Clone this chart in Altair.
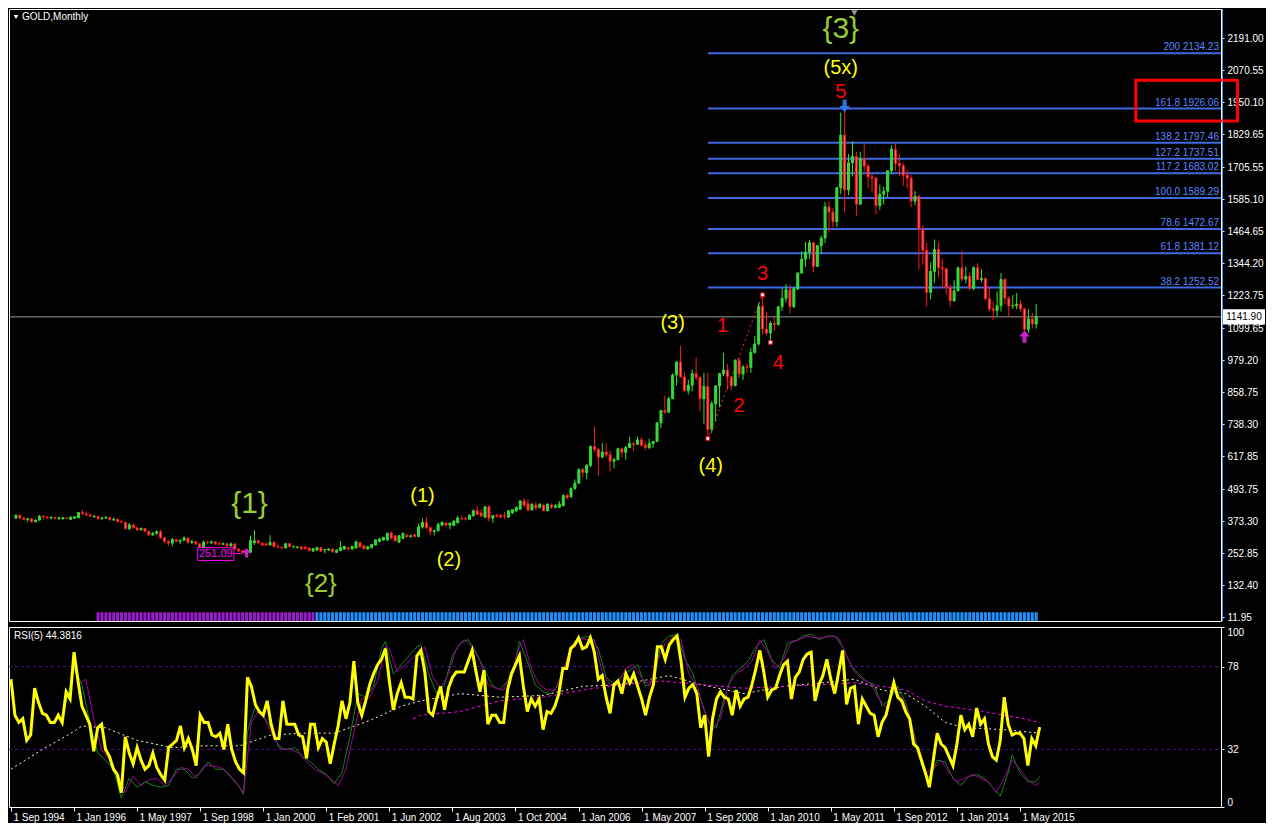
import altair as alt
import pandas as pd

# ---------------- price data (one entry per monthly bar, bar index 0 = Sep 1994) ----------------
opens = [384,395,384,379,382,371,377,392,389,385,
         387,383,382,385,380,384,386,405,400,396,
         389,391,382,385,387,377,380,371,369,345,
         359,348,340,346,335,321,327,333,311,297,
         290,304,297,301,310,293,296,288,274,294,
         292,295,288,286,288,280,287,268,261,254,
         256,292,299,290,288,283,293,277,275,272,
         288,277,274,276,276,272,260,264,273,264,
         264,268,255,262,268,272,268,272,292,281,
         268,273,283,297,302,302,329,318,294,308,
         320,315,322,315,351,368,348,334,337,358,
         366,358,357,367,384,383,380,393,412,404,
         388,427,384,396,394,394,388,404,412,418,
         449,439,415,434,425,433,412,434,425,425,
         431,470,465,496,516,568,556,583,654,643,
         614,633,623,599,604,646,632,650,665,662,
         679,659,650,665,673,743,789,783,834,923,
         972,916,864,885,928,914,834,880,718,815,
         882,928,942,916,883,979,927,954,952,1008,
         1040,1182,1096,1081,1118,1113,1180,1212,1244,1181,
         1248,1307,1359,1386,1421,1332,1410,1439,1556,1536,
         1500,1628,1826,1620,1722,1746,1566,1737,1710,1669,
         1664,1561,1604,1615,1692,1773,1720,1711,1675,1664,
         1578,1596,1472,1393,1234,1313,1395,1327,1323,1253,
         1202,1240,1326,1284,1295,1250,1327,1282,1287,1210,
         1172,1166,1184,1283,1212,1183,1184,1190,1172,1095,1134,1115]
highs = [398,396,389,385,383,379,396,396,391,391,
         388,390,387,386,390,390,407,416,409,402,
         396,394,388,392,388,386,383,375,369,366,
         360,350,348,347,335,332,339,340,313,300,
         310,304,304,316,311,302,297,289,300,298,
         300,296,293,292,290,293,290,270,264,260,
         318,339,300,293,292,320,298,286,278,291,
         290,280,278,278,279,275,271,276,275,268,
         270,270,266,298,279,276,280,300,294,283,
         279,287,305,310,314,330,331,320,320,330,
         326,322,326,363,383,389,352,341,367,371,
         369,368,376,393,391,389,399,417,431,418,
         429,433,396,398,400,406,414,418,428,452,
         458,455,440,445,440,437,440,440,437,449,
         474,477,500,530,570,574,588,658,730,650,
         668,665,639,612,650,650,656,690,671,692,
         689,672,683,675,746,792,845,842,929,974,
         1033,935,905,944,988,918,930,932,825,884,
         931,1007,964,919,982,989,960,966,1024,1070,
         1195,1227,1162,1126,1139,1182,1249,1266,1262,1254,
         1310,1388,1424,1432,1424,1412,1447,1575,1577,1552,
         1632,1911,1921,1755,1803,1764,1764,1792,1720,1680,
         1670,1640,1631,1694,1788,1796,1755,1723,1695,1677,
         1616,1601,1487,1420,1347,1433,1424,1361,1326,1262,
         1280,1332,1392,1331,1310,1332,1345,1322,1290,1255,
         1200,1238,1307,1288,1220,1224,1232,1205,1175,1170,1157,1191]
lows = [381,381,377,370,367,369,376,380,383,380,
        381,377,379,381,379,382,384,399,394,388,
        386,377,378,382,374,374,369,366,341,339,
        345,337,339,333,316,319,322,306,289,281,
        278,292,287,300,288,288,283,271,272,287,
        287,283,282,283,277,277,267,257,251,251,
        252,284,287,278,280,282,275,272,268,271,
        275,271,270,266,266,258,258,262,258,252,
        262,254,253,260,265,264,266,270,272,267,
        266,271,282,293,300,300,305,296,292,305,
        311,311,312,313,344,345,320,319,335,353,
        354,342,354,365,377,375,378,390,404,390,
        386,372,367,386,386,381,385,400,408,415,
        425,410,413,415,420,410,410,418,422,422,
        429,455,460,490,515,538,530,577,632,543,
        610,613,560,571,603,613,604,648,636,660,
        653,640,644,649,672,724,777,782,832,884,
        914,861,850,862,904,786,740,681,705,747,
        801,919,866,865,880,912,905,931,931,1003,
        1034,1075,1072,1044,1088,1110,1164,1196,1155,1175,
        1242,1305,1330,1360,1309,1330,1381,1420,1462,1478,
        1480,1604,1535,1600,1670,1523,1563,1688,1627,1610,
        1527,1545,1565,1592,1680,1692,1672,1636,1626,1555,
        1562,1321,1338,1180,1208,1270,1290,1251,1227,1180,
        1200,1238,1277,1268,1240,1241,1280,1273,1206,1161,
        1131,1142,1162,1191,1142,1172,1170,1162,1077,1080,1098,1098]
closes = [395,384,379,382,371,377,392,389,385,387,
          383,385,386,383,388,389,405,400,396,392,
          391,382,385,387,379,380,371,369,345,359,
          348,340,346,335,321,327,333,311,297,290,
          304,297,301,310,293,296,288,274,294,292,
          295,288,286,288,280,287,268,261,255,256,
          300,299,291,283,283,293,277,275,272,288,
          277,278,276,268,269,262,269,274,260,266,
          268,258,264,273,278,268,278,295,276,269,
          277,285,302,306,312,327,309,298,318,327,
          314,318,315,351,368,348,334,337,361,369,
          357,365,373,385,382,381,396,412,398,392,
          427,384,394,391,388,391,412,416,425,449,
          433,415,437,423,437,412,437,425,431,437,
          470,461,496,516,568,556,583,654,643,614,
          633,623,599,604,646,632,650,665,662,679,
          659,650,665,673,743,789,783,834,923,972,
          916,864,885,928,914,834,880,718,815,882,
          928,942,916,883,979,927,954,952,1008,1040,
          1182,1096,1081,1118,1113,1180,1212,1244,1181,1248,
          1307,1359,1386,1421,1332,1410,1439,1556,1536,1500,
          1628,1826,1620,1722,1746,1566,1737,1710,1669,1664,
          1561,1604,1615,1692,1773,1720,1711,1675,1664,1578,
          1596,1472,1393,1234,1313,1395,1327,1323,1253,1202,
          1240,1326,1284,1295,1250,1327,1282,1287,1210,1172,
          1166,1184,1283,1212,1183,1184,1190,1172,1095,1134,1115,1141.9]

tick_bars = [0, 16, 32, 48, 64, 80, 96, 112, 128, 144, 160, 176, 192, 208, 224, 240, 256]
tick_labels = ["1 Sep 1994", "1 Jan 1996", "1 May 1997", "1 Sep 1998", "1 Jan 2000",
               "1 Feb 2001", "1 Jun 2002", "1 Aug 2003", "1 Oct 2004", "1 Jan 2006",
               "1 May 2007", "1 Sep 2008", "1 Jan 2010", "1 May 2011", "1 Sep 2012",
               "1 Jan 2014", "1 May 2015"]
price_ticks = [2191.00, 2070.55, 1950.10, 1829.65, 1705.55, 1585.10, 1464.65, 1344.20,
               1223.75, 1099.65, 979.20, 858.75, 738.30, 617.85, 493.75, 373.30,
               252.85, 132.40, 11.95]

fib_levels = ["200", "161.8", "138.2", "127.2", "117.2", "100.0", "78.6", "61.8", "38.2"]
fib_prices = [2134.23, 1926.06, 1797.46, 1737.51, 1683.02, 1589.29, 1472.67, 1381.12, 1252.52]
fib_start_bar = 177
current_price = 1141.90

wave_labels = ["{3}", "(5x)", "5", "3", "1", "2", "4", "(3)", "(4)", "(1)", "(2)", "{1}", "{2}"]
wave_bars = [211, 211, 211, 191, 180.75, 185, 195, 168, 177.75, 104, 110.75, 59.75, 78]
wave_prices = [2224, 2080, 1990, 1302, 1107, 806, 967, 1118, 581, 467, 228, 438, 137]
wave_degree = ["cycle", "primary", "minor", "minor", "minor", "minor", "minor",
               "primary", "primary", "primary", "primary", "cycle", "cycle2"]

zigzag_bars = [177, 191]
zigzag_prices = [681, 1227]
pivot_bars = [177, 191, 193]
pivot_prices = [684, 1225, 1046]
low_text = "251.09"
low_box_bars = [46.5, 55.75]
low_box_prices = [225, 273]
low_link_bars = [55.75, 57.75]
low_link_price = 251
up_arrow_bars = [59, 258]
up_arrow_prices = [254, 1068]
up_arrow_sizes = [90, 150]
down_arrow_bar = 212
down_arrow_price = 1936
red_box_bars = [286.5, 312.5]
red_box_prices = [1879, 2033]
shift_marker_bar = 214.5

hist_segments = [(21, 76, "down"), (77, 261, "up")]

# ---------------- RSI panel data ----------------
rsi_yellow = [71,51,47,49,37,40,66,58,52,51,
              47,47,51,47,64,60,86,70,56,51,
              46,31,44,46,32,28,21,18,8,39,
              30,24,33,26,21,23,30,22,18,15,
              33,35,37,45,33,38,32,23,51,47,
              47,40,39,41,32,46,32,25,21,19,
              72,67,57,53,51,59,46,38,38,59,
              46,46,46,40,39,27,46,46,33,38,
              36,24,35,45,59,49,58,81,58,51,
              59,68,74,79,82,88,70,54,63,69,
              61,61,60,84,
              87,75,53,51,60,67,54,66,72,75,
              75,75,81,87,75,64,76,46,51,51,
              47,47,65,74,79,84,67,53,60,56,
              60,43,53,52,56,63,77,77,88,90,
              94,88,89,94,86,71,73,61,52,68,
              70,63,74,69,74,67,60,51,61,68,
              89,89,82,90,93,95,81,61,66,68,
              63,44,51,28,49,60,64,61,60,51,
              65,56,60,61,68,77,87,75,61,65,
              66,73,79,81,60,72,75,82,85,86,
              59,68,73,82,71,63,75,87,57,66,
              67,46,60,56,52,51,39,47,51,60,
              69,61,59,53,49,35,33,26,19,11,
              26,41,35,33,28,23,35,51,43,46,
              39,55,46,49,35,28,26,37,61,46,
              40,41,41,38,23,38,34,44.38]
green_pts = [(14,58),(16,77),(18,68),(20,47),(22,30),(24,26),(26,21),(28,5),(30,16),(32,11),
             (34,14),(36,12),(38,11),(40,12),(42,21),(44,21),(46,16),(48,19),(50,25),(52,21),
             (54,21),(56,16),(58,11),(59,7),(60,42),(62,56),(64,51),(66,44),(68,33),(70,32),
             (72,33),(74,28),(76,25),(78,21),(80,18),(82,13),(84,19),(86,39),(88,63),(90,61),
             (92,67),(94,88),(95,92),(97,74),(99,79),(101,84),(103,89),
             (104,90),(106,74),(108,63),(110,68),(112,84),(114,91),(116,93),(118,86),(120,77),
             (122,68),(124,65),(126,70),(128,81),(129,92),(131,81),(133,68),(135,64),(137,63),
             (139,68),(141,81),(143,92),(145,94),(147,95),(149,88),(151,72),(153,68),(155,73),
             (157,76),(159,79),(161,67),(163,70),(165,91),(167,95),(169,96),(171,82),(173,74),
             (175,60),(177,47),(179,44),(181,61),(183,73),(185,77),(187,81),(189,89),(191,93),
             (193,82),(195,77),(197,91),(199,92),(201,95),(203,96),(205,93),(207,95),(209,95),
             (211,89),(213,79),(215,74),(217,70),(219,68),(221,56),(223,60),(225,67),(227,58),
             (229,42),(231,23),(233,16),(235,26),(237,25),(239,16),(241,12),(243,17),(245,18),
             (247,16),(249,11),(251,6),(253,19),(254,29),(256,19),(258,14),(260,14),(261,17)]
purple_pts = [(17,68),(19,71),(21,49),(23,32),(25,26),(27,19),(29,8),(31,17),(33,12),(35,15),
              (37,16),(39,12),(41,16),(43,22),(45,21),(47,16),(49,23),(51,23),(53,22),(55,19),
              (57,14),(59,8),(61,47),(63,54),(65,46),(67,37),(69,32),(71,32),(73,30),(75,25),
              (77,21),(79,19),(81,16),(83,12),(85,21),(87,42),(89,60),(91,61),(93,70),(95,89),
              (96,88),(98,75),(100,79),(102,83),
              (105,89),(107,72),(109,66),(111,74),(113,88),(115,93),(117,89),(119,81),(121,68),
              (123,66),(125,65),(127,74),(129,89),(130,93),(132,77),(134,68),(136,65),(138,65),
              (140,75),(142,89),(144,94),(146,93),(148,93),(150,75),(152,68),(154,68),(156,77),
              (158,79),(160,72),(162,67),(164,81),(166,91),(168,95),(170,93),(172,74),(174,67),
              (176,53),(178,43),(180,49),(182,68),(184,74),(186,77),(188,81),(190,93),(192,86),
              (194,77),(196,82),(198,92),(200,93),(202,95),(204,94),(206,94),(208,95),(210,94),
              (212,84),(214,75),(216,71),(218,69),(220,61),(222,55),(224,65),(226,61),(228,51),
              (230,30),(232,19),(234,21),(236,26),(238,19),(240,14),(242,16),(244,18),(246,16),
              (248,14),(250,8),(252,16),(254,26),(256,21),(258,15),(260,12),(261,14)]
ma_fast_pts = [(0,21),(8,32),(16,42),(18,45),(24,44),(32,37),(41,33),(49,34),(58,34),(66,40),
               (74,41),(82,41),(91,48),(99,56),(104,59),(114,63),(124,61),(135,62),(145,67),
               (155,68),(167,73),(175,68),(186,63),(196,67),(206,69),(214,71),(221,65),(227,63),
               (232,56),(237,47),(242,44),(252,43),(261,41)]
ma_slow_pts = [(102,49),(104,51),(114,53),(124,59),(135,61),(145,65),(155,68),(165,70),(175,68),
               (186,66),(196,67),(206,68),(214,69),(221,67),(227,65),(232,59),(237,56),(247,53),
               (257,49),(261,47)]
rsi_levels = [78, 32]
rsi_ticks = [0, 32, 78, 100]
rsi_caption = "RSI(5) 44.3816"

assert len(opens) == len(highs) == len(lows) == len(closes) == len(rsi_yellow) == 262

# ---------------- layout ----------------
W, H1, H2 = 1212, 612, 180
FONT = "Liberation Sans"
xs = alt.Scale(domain=[-0.5, 307], nice=False, zero=False)
ys = alt.Scale(domain=[-3, 2301], nice=False, zero=False)
rs = alt.Scale(domain=[0, 100], nice=False, zero=False)

UP_ARROW = "M-0.32,1L0.32,1L0.32,0L0.85,0L0,-1L-0.85,0L-0.32,0Z"
DOWN_ARROW = "M-0.32,-1L0.32,-1L0.32,0L0.85,0L0,1L-0.85,0L-0.32,0Z"

price_axis = alt.Axis(orient="right", values=price_ticks, format=".2f", tickSize=3,
                      labelPadding=3, domain=False, grid=False, labelOverlap=False, title=None)
label_expr = " : ".join(f"datum.value == {b} ? '{t}'" for b, t in zip(tick_bars, tick_labels)) + " : ''"
rsi_x_axis = alt.Axis(values=tick_bars, labelExpr=label_expr, labelAlign="left", labelOffset=2,
                      tickSize=4, labelPadding=1, domain=False, grid=False,
                      labelOverlap=False, labelFlush=False, labelBound=False, title=None)
rsi_y_axis = alt.Axis(orient="right", values=rsi_ticks, format="d", tickSize=3, labelPadding=3,
                      domain=False, grid=False, labelFlush=True, labelOverlap=False, title=None)

candles = pd.DataFrame({"bar": list(range(len(closes))), "o": opens, "h": highs, "l": lows, "c": closes})
bull = alt.datum.c >= alt.datum.o


def X(field="bar:Q"):
    return alt.X(field, scale=xs, axis=None, title=None)


def Y(field):
    return alt.Y(field, scale=ys, axis=price_axis, title=None)


def RX(field="bar:Q"):
    return alt.X(field, scale=xs, axis=rsi_x_axis, title=None)


def RY(field):
    return alt.Y(field, scale=rs, axis=rsi_y_axis, title=None)


one = pd.DataFrame({"k": [0]})

# histogram indicator at the bottom of the price window
hist_rows = []
for s, e, k in hist_segments:
    for b in range(s, e + 1):
        hist_rows.append({"bar": b, "kind": k})
histdf = pd.DataFrame(hist_rows)
hist_layers = []
for kind, col in [("down", "#9b1ccf"), ("up", "#1e90ff")]:
    hist_layers.append(
        alt.Chart(histdf).transform_filter(alt.datum.kind == kind).mark_bar(size=3, color=col).encode(
            x=X(), y=alt.YDatum(30, scale=ys, axis=price_axis, title=None), y2=alt.Y2Datum(-3)))

fibdf = pd.DataFrame({"level": fib_levels, "price": fib_prices})
fibdf["start"] = fib_start_bar
fibdf["label"] = [f"{lv} {p:.2f}" for lv, p in zip(fib_levels, fib_prices)]
fib_rule = alt.Chart(fibdf).mark_rule(color="#4169e1", strokeWidth=2).encode(
    x=X("start:Q"), x2=alt.value(W), y=Y("price:Q"))
fib_text = alt.Chart(fibdf).mark_text(align="right", baseline="bottom", dx=-2, dy=-1,
                                      color="#5b86ff", font=FONT, fontSize=10).encode(
    x=alt.value(W), y=Y("price:Q"), text="label:N")

curdf = pd.DataFrame({"p": [current_price], "t": [f"{current_price:.2f}"]})
cur_line = alt.Chart(curdf).mark_rule(color="#9a9a9a", strokeWidth=1).encode(
    x=alt.value(0), x2=alt.value(W), y=Y("p:Q"))

wick = alt.Chart(candles).mark_rule(strokeWidth=1).encode(
    x=X(), y=Y("l:Q"), y2="h:Q",
    color=alt.when(bull).then(alt.value("#2ee82e")).otherwise(alt.value("#ff1a1a")))
body = alt.Chart(candles).mark_bar(size=2, strokeWidth=1).encode(
    x=X(), y=Y("o:Q"), y2="c:Q",
    fill=alt.when(bull).then(alt.value("#36d236")).otherwise(alt.value("#f07878")),
    stroke=alt.when(bull).then(alt.value("#36e036")).otherwise(alt.value("#ff1010")))

zig = alt.Chart(pd.DataFrame({"bar": zigzag_bars, "p": zigzag_prices})).mark_line(
    color="#ff3030", strokeDash=[2, 3], strokeWidth=1).encode(x=X(), y=Y("p:Q"))
pivots = alt.Chart(pd.DataFrame({"bar": pivot_bars, "p": pivot_prices})).mark_point(
    shape="square", size=14, filled=True, fill="#ffffff", stroke="#ff0000", strokeWidth=1, opacity=1).encode(
    x=X(), y=Y("p:Q"))

up_arrows = alt.Chart(pd.DataFrame({"bar": up_arrow_bars, "p": up_arrow_prices, "s": up_arrow_sizes})).mark_point(
    shape=UP_ARROW, filled=True, color="#d21ed2", opacity=1).encode(
    x=X(), y=Y("p:Q"), size=alt.Size("s:Q", scale=None, legend=None))
down_arrow = alt.Chart(pd.DataFrame({"bar": [down_arrow_bar], "p": [down_arrow_price]})).mark_point(
    shape=DOWN_ARROW, size=160, filled=True, color="#2a78e4", opacity=1).encode(x=X(), y=Y("p:Q"))

wavedf = pd.DataFrame({"label": wave_labels, "bar": wave_bars, "p": wave_prices, "deg": wave_degree})
wave_styles = [("cycle", "#9acd32", 30), ("cycle2", "#9acd32", 26), ("primary", "#ffff00", 20), ("minor", "#ff0000", 20)]
wave_layers = []
for deg, col, fs in wave_styles:
    wave_layers.append(
        alt.Chart(wavedf).transform_filter(alt.datum.deg == deg).mark_text(
            font=FONT, align="center", baseline="middle", color=col, fontSize=fs).encode(
            x=X(), y=Y("p:Q"), text="label:N"))

low_box = alt.Chart(pd.DataFrame({"b0": [low_box_bars[0]], "b1": [low_box_bars[1]],
                                  "p0": [low_box_prices[0]], "p1": [low_box_prices[1]]})).mark_rect(
    fillOpacity=0, stroke="#ff00ff", strokeWidth=1).encode(
    x=X("b0:Q"), x2="b1:Q", y=Y("p0:Q"), y2="p1:Q")
low_link = alt.Chart(pd.DataFrame({"bar": low_link_bars, "p": [low_link_price] * 2})).mark_line(
    color="#ff00ff", strokeWidth=1).encode(x=X(), y=Y("p:Q"))
low_lbl = alt.Chart(pd.DataFrame({"bar": [sum(low_box_bars) / 2], "p": [sum(low_box_prices) / 2], "t": [low_text]})).mark_text(
    font=FONT, fontSize=11, color="#ff00ff", align="center", baseline="middle").encode(
    x=X(), y=Y("p:Q"), text="t:N")

red_box = alt.Chart(pd.DataFrame({"b0": [red_box_bars[0]], "b1": [red_box_bars[1]],
                                  "p0": [red_box_prices[0]], "p1": [red_box_prices[1]]})).mark_rect(
    fillOpacity=0, stroke="#ff0000", strokeWidth=3).encode(
    x=X("b0:Q"), x2="b1:Q", y=Y("p0:Q"), y2="p1:Q")

price_box = alt.Chart(curdf).mark_point(
    shape="M-1,-0.36L1,-0.36L1,0.36L-1,0.36Z", size=1764, filled=True, color="#ffffff", opacity=1).encode(
    x=alt.value(W + 23), y=Y("p:Q"))
price_txt = alt.Chart(curdf).mark_text(font=FONT, fontSize=10, color="#000000", align="center", baseline="middle").encode(
    x=alt.value(W + 23), y=Y("p:Q"), text="t:N")

right_line = alt.Chart(one).mark_rule(color="#3d9bff", strokeWidth=1).encode(
    x=alt.value(W + 1.5), y=alt.value(0), y2=alt.value(H1))

shift_marker = alt.Chart(pd.DataFrame({"bar": [shift_marker_bar]})).mark_point(
    shape="triangle-down", size=40, filled=True, color="#9a9a9a", opacity=1).encode(x=X(), y=alt.value(4))

title_tri = alt.Chart(one).mark_point(shape="triangle-down", size=22, filled=True, color="#ffffff", opacity=1).encode(
    x=alt.value(7), y=alt.value(8))
title_txt = alt.Chart(pd.DataFrame({"t": ["GOLD,Monthly"]})).mark_text(
    font=FONT, fontSize=10, color="#ffffff", align="left", baseline="middle").encode(
    x=alt.value(13), y=alt.value(8), text="t:N")

price_panel = alt.layer(
    *hist_layers, fib_rule, cur_line, wick, body, fib_text, zig, pivots, up_arrows, down_arrow,
    *wave_layers, low_box, low_link, low_lbl, red_box, price_box, price_txt, right_line,
    shift_marker, title_tri, title_txt
).properties(width=W, height=H1)

# ---------------- RSI panel ----------------
lvl = alt.Chart(pd.DataFrame({"v": rsi_levels})).mark_rule(color="#55108f", strokeDash=[3, 3], strokeWidth=1).encode(
    x=alt.value(0), x2=alt.value(W), y=RY("v:Q"))
ma_fast = alt.Chart(pd.DataFrame(ma_fast_pts, columns=["bar", "v"])).mark_line(
    color="#fff2d0", strokeDash=[2, 3], strokeWidth=1, clip=True).encode(x=RX(), y=RY("v:Q"))
ma_slow = alt.Chart(pd.DataFrame(ma_slow_pts, columns=["bar", "v"])).mark_line(
    color="#ff00ff", strokeDash=[3, 3], strokeWidth=1, clip=True).encode(x=RX(), y=RY("v:Q"))
green_l = alt.Chart(pd.DataFrame(green_pts, columns=["bar", "v"])).mark_line(
    color="#0c8a0c", strokeWidth=1, clip=True).encode(x=RX(), y=RY("v:Q"))
purple_l = alt.Chart(pd.DataFrame(purple_pts, columns=["bar", "v"])).mark_line(
    color="#a000a0", strokeWidth=1, clip=True).encode(x=RX(), y=RY("v:Q"))
yellow_l = alt.Chart(pd.DataFrame({"bar": list(range(len(rsi_yellow))), "v": rsi_yellow})).mark_line(
    color="#ffff00", strokeWidth=3, clip=True).encode(x=RX(), y=RY("v:Q"))
rsi_txt = alt.Chart(pd.DataFrame({"t": [rsi_caption]})).mark_text(
    font=FONT, fontSize=10, color="#ffffff", align="left", baseline="middle").encode(
    x=alt.value(5), y=alt.value(9), text="t:N")

rsi_panel = alt.layer(lvl, ma_fast, ma_slow, green_l, purple_l, yellow_l, rsi_txt).properties(width=W, height=H2)

chart = alt.vconcat(price_panel, rsi_panel, spacing=3).properties(
    background="#000000", padding=0
).configure_view(stroke="#ffffff", strokeWidth=1).configure_axis(
    labelColor="#ffffff", tickColor="#ffffff", labelFont=FONT, labelFontSize=10, grid=False, domain=False
)

chart.save("out.html", embed_options={"renderer": "svg", "actions": False})
